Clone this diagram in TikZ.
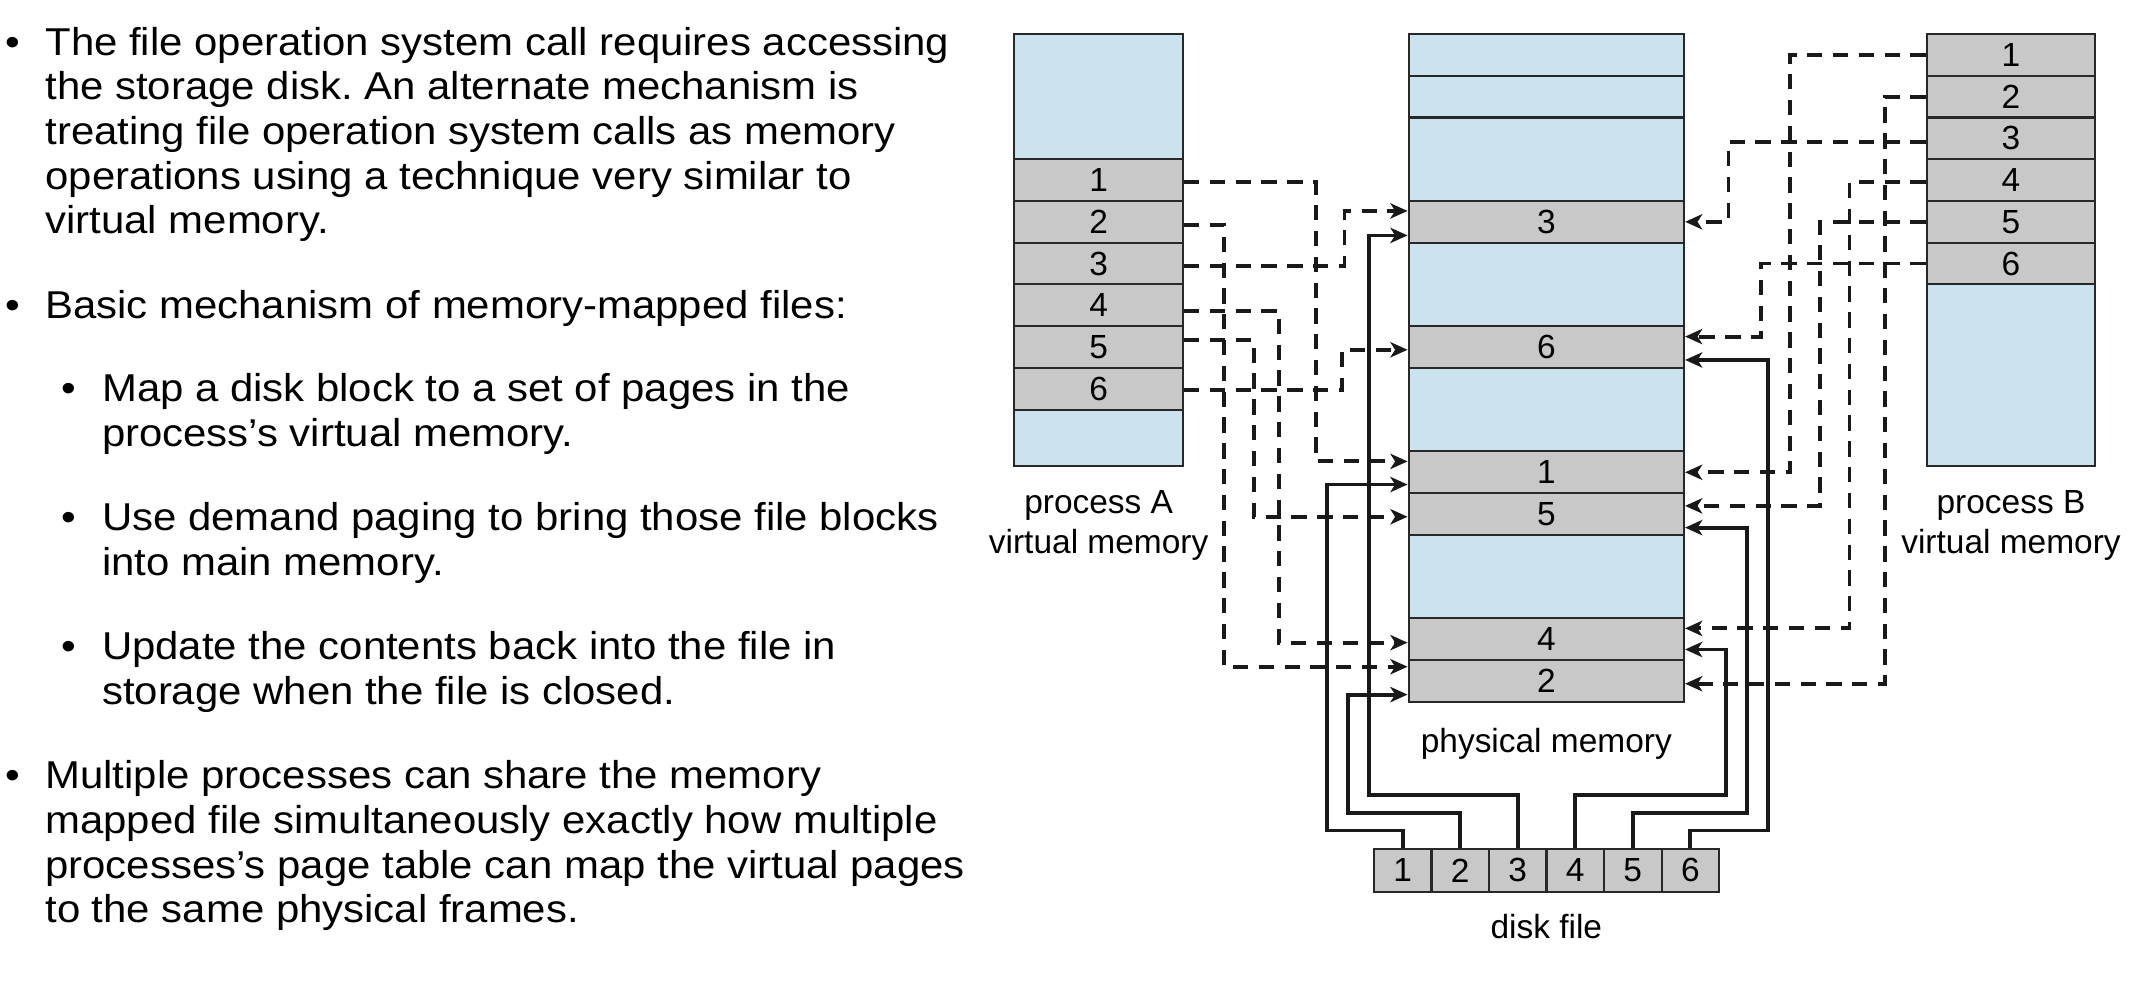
\documentclass[tikz,border=0pt]{standalone}
\usepackage{fontspec}
\setmainfont{Liberation Sans}
\newfontfamily\slidefont[FakeStretch=1.08]{Liberation Sans}
\usetikzlibrary{arrows.meta,calc}
\definecolor{vmblue}{RGB}{203,227,239}
\definecolor{pagegray}{RGB}{200,200,200}
\definecolor{edgegray}{RGB}{40,40,40}
\definecolor{wirecol}{RGB}{25,25,25}
\frenchspacing
\tikzset{
  slidetext/.style={anchor=base west, inner sep=0pt, font=\slidefont\fontsize{20.3}{24}\selectfont},
  page/.style={draw=edgegray, line width=1.1pt, fill=pagegray, inner sep=0pt,
    minimum height=0.7675cm, font=\fontsize{17.5}{21}\selectfont},
  freepage/.style={page, fill=vmblue},
  vmcol/.style={minimum width=3.1cm},
  pmcol/.style={minimum width=5.0625cm},
  diskcell/.style={page, minimum width=1.0575cm, minimum height=0.78cm},
  memlabel/.style={anchor=base, inner sep=0pt, font=\fontsize{17.5}{21}\selectfont},
  maparrow/.style={draw=wirecol, line width=2pt, dash pattern=on 8pt off 5.5pt,
    -{Stealth[length=9pt,width=8pt,inset=2.5pt]}},
  diskline/.style={draw=wirecol, line width=2pt,
    -{Stealth[length=9pt,width=8pt,inset=2.5pt]}}
}
\begin{document}
\begin{tikzpicture}[x=0.025cm, y=-0.025cm]
\useasboundingbox (0,0) rectangle (1568,721);
% bullet list
\node[slidetext] (dot1) at (3.9,40.5) {•};
\node[slidetext] (txt1) at (33.1,40.5) {The file operation system call requires accessing};
\node[slidetext] (txt2) at (33.1,73.5) {the storage disk. An alternate mechanism is};
\node[slidetext] (txt3) at (33.1,106.6) {treating file operation system calls as memory};
\node[slidetext] (txt4) at (33.1,139.2) {operations using a technique very similar to};
\node[slidetext] (txt5) at (33.1,171.6) {virtual memory.};
\node[slidetext] (dot2) at (3.9,234.1) {•};
\node[slidetext] (txt6) at (33.1,234.1) {Basic mechanism of memory-mapped files:};
\node[slidetext] (dot3) at (44.9,295.4) {•};
\node[slidetext] (txt7) at (74.8,295.4) {Map a disk block to a set of pages in the};
\node[slidetext] (txt8) at (74.8,328.5) {process’s virtual memory.};
\node[slidetext] (dot4) at (44.9,390.3) {•};
\node[slidetext] (txt9) at (74.8,390.3) {Use demand paging to bring those file blocks};
\node[slidetext] (txt10) at (74.8,423.4) {into main memory.};
\node[slidetext] (dot5) at (44.9,485.4) {•};
\node[slidetext] (txt11) at (74.8,485.4) {Update the contents back into the file in};
\node[slidetext] (txt12) at (74.8,518) {storage when the file is closed.};
\node[slidetext] (dot6) at (3.9,579.8) {•};
\node[slidetext] (txt13) at (33.1,579.8) {Multiple processes can share the memory};
\node[slidetext] (txt14) at (33.1,612.9) {mapped file simultaneously exactly how multiple};
\node[slidetext] (txt15) at (33.1,646) {processes’s page table can map the virtual pages};
\node[slidetext] (txt16) at (33.1,678.6) {to the same physical frames.};
% process A virtual memory
\node[freepage, vmcol, minimum height=2.3025cm] (vatop) at (808,71.05) {};
\node[page, vmcol] (va1) at (808,132.45) {1};
\node[page, vmcol] (va2) at (808,163.15) {2};
\node[page, vmcol] (va3) at (808,193.85) {3};
\node[page, vmcol] (va4) at (808,224.55) {4};
\node[page, vmcol] (va5) at (808,255.25) {5};
\node[page, vmcol] (va6) at (808,285.95) {6};
\node[freepage, vmcol, minimum height=1.0425cm] (vabot) at (808,322.15) {};
\node[memlabel] (laba) at (808,377.5) {process A};
\node[memlabel] (labavm) at (808,406.9) {virtual memory};
% physical memory
\node[freepage, pmcol] (pmf1) at (1137.25,40.35) {};
\node[freepage, pmcol] (pmf2) at (1137.25,71.05) {};
\node[freepage, pmcol, minimum height=1.535cm] (pmf3) at (1137.25,117.1) {};
\node[page, pmcol] (pm3) at (1137.25,163.15) {3};
\node[freepage, pmcol, minimum height=1.535cm] (pmf4) at (1137.25,209.2) {};
\node[page, pmcol] (pm6) at (1137.25,255.25) {6};
\node[freepage, pmcol, minimum height=1.535cm] (pmf5) at (1137.25,301.3) {};
\node[page, pmcol] (pm1) at (1137.25,347.35) {1};
\node[page, pmcol] (pm5) at (1137.25,378.05) {5};
\node[freepage, pmcol, minimum height=1.535cm] (pmf6) at (1137.25,424.1) {};
\node[page, pmcol] (pm4) at (1137.25,470.15) {4};
\node[page, pmcol] (pm2) at (1137.25,500.85) {2};
\node[memlabel] (labpm) at (1137.25,553.6) {physical memory};
% process B virtual memory
\node[page, vmcol] (vb1) at (1479,40.35) {1};
\node[page, vmcol] (vb2) at (1479,71.05) {2};
\node[page, vmcol] (vb3) at (1479,101.75) {3};
\node[page, vmcol] (vb4) at (1479,132.45) {4};
\node[page, vmcol] (vb5) at (1479,163.15) {5};
\node[page, vmcol] (vb6) at (1479,193.85) {6};
\node[freepage, vmcol, minimum height=3.345cm] (vbbot) at (1479,276.1) {};
\node[memlabel] (labb) at (1479,377.5) {process B};
\node[memlabel] (labbvm) at (1479,406.9) {virtual memory};
% disk file
\node[diskcell] (df1) at (1031.65,640.2) {1};
\node[diskcell] (df2) at (1073.95,640.2) {2};
\node[diskcell] (df3) at (1116.25,640.2) {3};
\node[diskcell] (df4) at (1158.55,640.2) {4};
\node[diskcell] (df5) at (1200.85,640.2) {5};
\node[diskcell] (df6) at (1243.15,640.2) {6};
\node[memlabel] (labdf) at (1137.25,690.1) {disk file};
% process A mappings
\draw[maparrow] ($(va1.east)+(0,1.5)$) -- ++(97,0) |- ($(pm1.west)+(0,-8)$);
\draw[maparrow] ($(va2.east)+(0,2.5)$) -- ++(29.5,0) |- ($(pm2.west)+(0,-10.5)$);
\draw[maparrow] ($(va3.east)+(0,1.5)$) -- ++(118,0) |- ($(pm3.west)+(0,-8)$);
\draw[maparrow] ($(va4.east)+(0,4)$) -- ++(70,0) |- ($(pm4.west)+(0,2.5)$);
\draw[maparrow] ($(va5.east)+(0,-5)$) -- ++(51.5,0) |- ($(pm5.west)+(0,2)$);
\draw[maparrow] ($(va6.east)+(0,1)$) -- ++(116,0) |- ($(pm6.west)+(0,2)$);
% process B mappings
\draw[maparrow] (vb1.west) -- ++(-99.7,0) |- (pm1.east);
\draw[maparrow] (vb2.west) -- ++(-30,0) |- ($(pm2.east)+(0,2)$);
\draw[maparrow] ($(vb3.west)+(0,2.5)$) -- ++(-145,0) |- (pm3.east);
\draw[maparrow] ($(vb4.west)+(0,1.3)$) -- ++(-56,0) |- ($(pm4.east)+(0,-8)$);
\draw[maparrow] (vb5.west) -- ++(-77.8,0) |- ($(pm5.east)+(0,-6)$);
\draw[maparrow] (vb6.west) -- ++(-121,0) |- ($(pm6.east)+(0,-7.7)$);
% disk blocks
\draw[diskline] (df1.north) |- ++(-55.6,-13) |- ($(pm1.west)+(0,9)$);
\draw[diskline] (df2.north) |- ++(-82.5,-26.1) |- ($(pm2.west)+(0,10)$);
\draw[diskline] (df3.north) |- ++(-109.7,-39.1) |- ($(pm3.west)+(0,10)$);
\draw[diskline] (df4.north) |- ++(111,-39.1) |- ($(pm4.east)+(0,7.5)$);
\draw[diskline] (df5.north) |- ++(83.7,-26.1) |- ($(pm5.east)+(0,10)$);
\draw[diskline] (df6.north) |- ++(57.2,-13) |- ($(pm6.east)+(0,9.5)$);
\end{tikzpicture}
\end{document}
